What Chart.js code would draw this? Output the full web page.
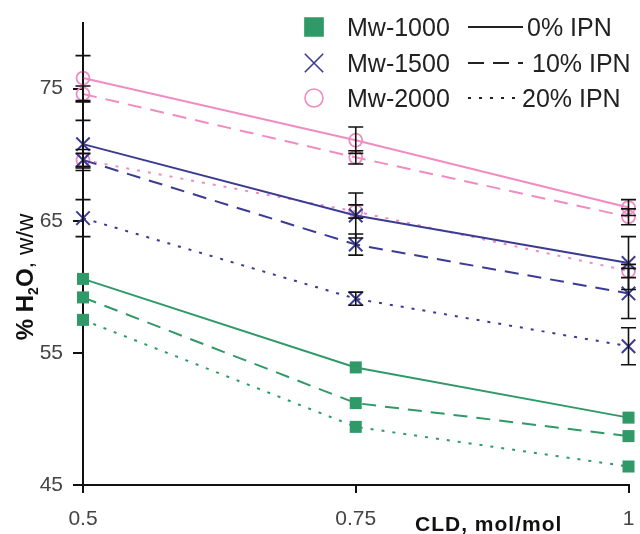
<!DOCTYPE html>
<html>
<head>
<meta charset="utf-8">
<script src="https://cdn.jsdelivr.net/npm/chart.js@4.4.1/dist/chart.umd.min.js"></script>
<style>
  html, body { margin: 0; padding: 0; background: #fff; }
  #wrap { width: 640px; height: 534px; }
</style>
</head>
<body>
<div id="wrap"><canvas id="c" width="640" height="534"></canvas></div>
<script>
// Crosslinker density (CLD, mol/mol)
const cld = [0.5, 0.75, 1];
const xTickValues = [0.5, 0.75, 1];
const yTickValues = [45, 55, 65, 75];

// Water uptake, % H2O w/w, per PEG molecular weight and IPN content
const mw1000_ipn0  = [60.6, 53.9, 50.1];
const mw1000_ipn10 = [59.2, 51.2, 48.7];
const mw1000_ipn20 = [57.5, 49.4, 46.4];
const mw1500_ipn0  = [70.8, 65.4, 61.8];
const mw1500_ipn10 = [69.6, 63.2, 59.5];
const mw1500_ipn20 = [65.2, 59.1, 55.5];
const mw2000_ipn0  = [75.8, 71.1, 66.0];
const mw2000_ipn10 = [74.6, 69.8, 65.3];
const mw2000_ipn20 = [69.6, 65.7, 61.2];

// Standard deviations (± w/w) for the Mw-1500 and Mw-2000 series
const err1500_ipn0  = [1.8, 1.7, 2.0];
const err1500_ipn10 = [0.8, 0.8, 1.9];
const err1500_ipn20 = [1.4, 0.5, 1.4];
const err2000_ipn0  = [1.7, 1.0, 0.6];
const err2000_ipn10 = [0.6, 0.5, 0.6];
const err2000_ipn20 = [0.5, 0.5, 0.5];

const mwLabels  = ['Mw-1000', 'Mw-1500', 'Mw-2000'];
const ipnLabels = ['0% IPN', '10% IPN', '20% IPN'];

const GREEN = '#2f9a68';
const NAVY  = '#3b3b93';
const PINK  = '#ef8cc2';
const FONT  = '"Liberation Sans", Arial, sans-serif';

const DASH = { solid: [], dashed: [14, 9], dotted: [3, 8] };

function pts(vals) { return cld.map((x, i) => ({ x: x, y: vals[i] })); }

function series(label, vals, errs, color, style, dash) {
  const base = {
    label: label,
    data: pts(vals),
    errors: errs,
    clip: false,
    borderColor: color,
    backgroundColor: color,
    borderWidth: 2,
    borderDash: dash,
    tension: 0,
    fill: false,
    pointStyle: style,
    pointBorderColor: color,
    pointBorderWidth: 2,
    pointBackgroundColor: color,
    pointRadius: 7
  };
  if (style === 'rect') { base.pointRadius = 8.5; base.pointBorderWidth = 0; }
  if (style === 'crossRot') { base.pointRadius = 9.5; base.pointBorderWidth = 2; }
  if (style === 'circle') { base.pointRadius = 6.5; base.pointBackgroundColor = 'rgba(0,0,0,0)'; base.pointBorderWidth = 1.8; }
  return base;
}

const datasets = [
  series('Mw-1000 0% IPN',  mw1000_ipn0,  null, GREEN, 'rect', DASH.solid),
  series('Mw-1000 10% IPN', mw1000_ipn10, null, GREEN, 'rect', DASH.dashed),
  series('Mw-1000 20% IPN', mw1000_ipn20, null, GREEN, 'rect', DASH.dotted),
  series('Mw-1500 0% IPN',  mw1500_ipn0,  err1500_ipn0,  NAVY, 'crossRot', DASH.solid),
  series('Mw-1500 10% IPN', mw1500_ipn10, err1500_ipn10, NAVY, 'crossRot', DASH.dashed),
  series('Mw-1500 20% IPN', mw1500_ipn20, err1500_ipn20, NAVY, 'crossRot', DASH.dotted),
  series('Mw-2000 0% IPN',  mw2000_ipn0,  err2000_ipn0,  PINK, 'circle', DASH.solid),
  series('Mw-2000 10% IPN', mw2000_ipn10, err2000_ipn10, PINK, 'circle', DASH.dashed),
  series('Mw-2000 20% IPN', mw2000_ipn20, err2000_ipn20, PINK, 'circle', DASH.dotted)
];

// Vertical error bars with caps, placed through the chart scales
const errorBars = {
  id: 'errorBars',
  afterDatasetsDraw(chart) {
    const { ctx, scales: { x, y } } = chart;
    ctx.save();
    ctx.strokeStyle = '#111';
    ctx.lineWidth = 1.6;
    ctx.setLineDash([]);
    chart.data.datasets.forEach(ds => {
      if (!ds.errors) return;
      ds.data.forEach((p, i) => {
        const e = ds.errors[i];
        const px = x.getPixelForValue(p.x);
        const top = y.getPixelForValue(p.y + e);
        const bot = y.getPixelForValue(p.y - e);
        const cap = 7.5;
        ctx.beginPath();
        ctx.moveTo(px, top); ctx.lineTo(px, bot);
        ctx.moveTo(px - cap, top); ctx.lineTo(px + cap, top);
        ctx.moveTo(px - cap, bot); ctx.lineTo(px + cap, bot);
        ctx.stroke();
      });
    });
    ctx.restore();
  }
};

// Axis titles: y title with subscript, x title beside the tick labels
const axisTitles = {
  id: 'axisTitles',
  afterDraw(chart) {
    const { ctx } = chart;
    ctx.save();
    ctx.fillStyle = '#111';
    ctx.textBaseline = 'alphabetic';
    // x title
    ctx.font = 'bold 21px ' + FONT;
    ctx.textAlign = 'left';
    if ('letterSpacing' in ctx) ctx.letterSpacing = '1px';
    ctx.fillText('CLD, mol/mol', 415, 531);
    if ('letterSpacing' in ctx) ctx.letterSpacing = '0px';
    // y title, rotated
    ctx.translate(33, 277);
    ctx.rotate(-Math.PI / 2);
    const parts = [
      { t: '% H', f: 'bold 24px ' + FONT, dy: 0 },
      { t: '2', f: 'bold 14px ' + FONT, dy: 5 },
      { t: 'O', f: 'bold 24px ' + FONT, dy: 0 },
      { t: ', w/w', f: '24px ' + FONT, dy: 0 }
    ];
    let total = 0;
    parts.forEach(p => { ctx.font = p.f; total += ctx.measureText(p.t).width; });
    let cx = -total / 2;
    parts.forEach(p => {
      ctx.font = p.f;
      ctx.fillText(p.t, cx, p.dy);
      cx += ctx.measureText(p.t).width;
    });
    ctx.restore();
  }
};

// Two-column key: marker per molecular weight, line style per IPN content
const keyBox = {
  id: 'keyBox',
  afterDraw(chart) {
    const { ctx } = chart;
    const rows = [27, 63, 98];
    const markers = [
      { style: 'rect', color: GREEN, r: 12.5, fill: true },
      { style: 'crossRot', color: NAVY, r: 13, fill: false },
      { style: 'circle', color: PINK, r: 9, fill: false }
    ];
    const dashes = [DASH.solid, [16, 9], [3, 8]];
    ctx.save();
    ctx.font = '25px ' + FONT;
    ctx.textBaseline = 'alphabetic';
    ctx.textAlign = 'left';
    rows.forEach((yy, i) => {
      const m = markers[i];
      ctx.fillStyle = m.fill ? m.color : 'rgba(0,0,0,0)';
      ctx.strokeStyle = m.color;
      ctx.lineWidth = m.style === 'rect' ? 0 : 1.6;
      Chart.helpers.drawPoint(ctx, { pointStyle: m.style, radius: m.r, borderWidth: ctx.lineWidth }, 314, yy);
      ctx.fillStyle = '#222';
      ctx.fillText(mwLabels[i], 347, yy + 9);
      // line sample
      ctx.save();
      ctx.strokeStyle = '#222';
      ctx.lineWidth = 2;
      ctx.setLineDash(dashes[i]);
      ctx.beginPath();
      ctx.moveTo(468, yy);
      ctx.lineTo(i === 2 ? 518 : 523, yy);
      ctx.stroke();
      ctx.restore();
      ctx.fillText(ipnLabels[i], i === 1 ? 532 : (i === 2 ? 522 : 527), yy + 9);
    });
    ctx.restore();
  }
};

new Chart(document.getElementById('c'), {
  type: 'line',
  data: { datasets: datasets },
  options: {
    responsive: false,
    devicePixelRatio: 1,
    animation: false,
    layout: { padding: { top: 20, right: 10, left: 0, bottom: 0 } },
    plugins: { legend: { display: false }, tooltip: { enabled: false } },
    scales: {
      x: {
        type: 'linear',
        min: 0.5,
        max: 1,
        afterBuildTicks(scale) { scale.ticks = xTickValues.map(v => ({ value: v })); },
        afterFit(scale) { scale.height = 49; scale.paddingRight = 0; scale.paddingLeft = 0; },
        ticks: {
          autoSkip: false,
          maxRotation: 0,
          padding: 14,
          color: '#444',
          font: { family: FONT, size: 21 },
          callback: v => String(v)
        },
        grid: { display: true, drawOnChartArea: false, drawTicks: true, tickLength: 8, color: '#111', lineWidth: 2 },
        border: { display: true, color: '#111', width: 2 }
      },
      y: {
        type: 'linear',
        min: 45,
        max: 80,
        afterBuildTicks(scale) { scale.ticks = yTickValues.map(v => ({ value: v })); },
        afterFit(scale) { scale.width = 83; },
        ticks: {
          autoSkip: false,
          padding: 10,
          color: '#444',
          font: { family: FONT, size: 21 },
          callback: v => String(v)
        },
        grid: { display: true, drawOnChartArea: false, drawTicks: true, tickLength: 10, color: '#111', lineWidth: 2 },
        border: { display: true, color: '#111', width: 2 }
      }
    }
  },
  plugins: [errorBars, axisTitles, keyBox]
});
</script>
</body>
</html>
